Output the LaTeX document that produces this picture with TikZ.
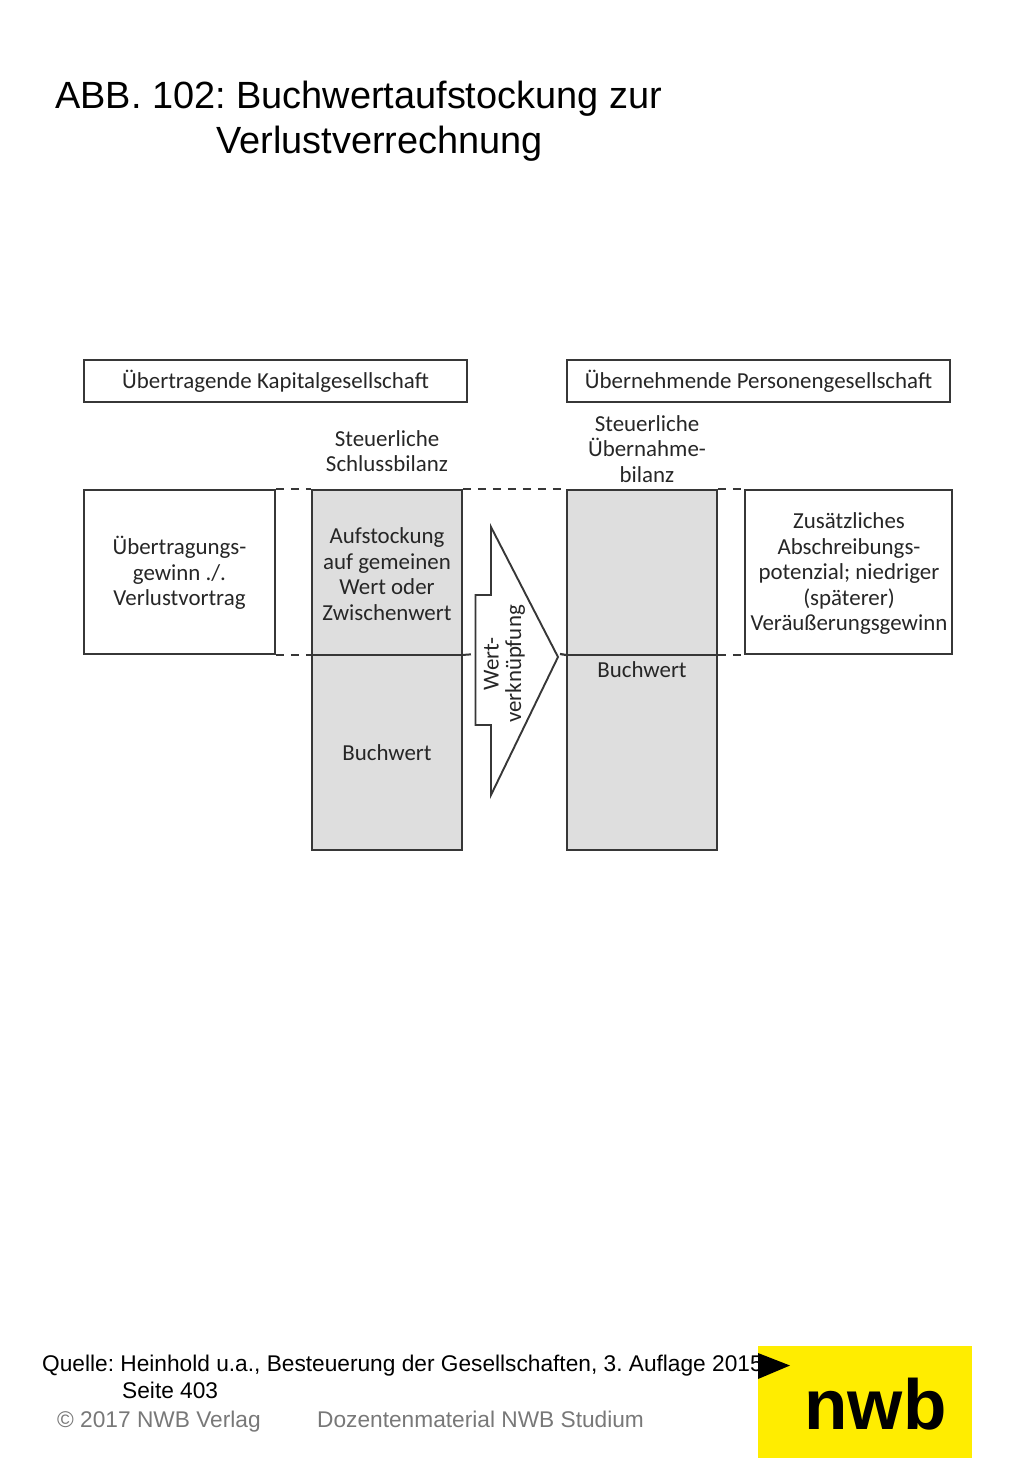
\documentclass[tikz,border=0pt]{standalone}
\usepackage{fontspec}
\setmainfont{Liberation Sans}
\newfontfamily\dfont{Carlito}
\frenchspacing
\usetikzlibrary{calc}
\definecolor{fillgrey}{RGB}{222,222,222}
\definecolor{linegrey}{RGB}{55,55,55}
\definecolor{textgrey}{RGB}{120,120,120}
\definecolor{nwbyellow}{RGB}{255,237,0}
\tikzset{
 boxw/.style={draw=linegrey,line width=1.9pt,fill=white,inner sep=0pt},
 boxg/.style={draw=linegrey,line width=1.9pt,fill=fillgrey,inner sep=0pt},
 dtext/.style={inner sep=0pt,font=\dfont\fontsize{22.9}{25.5}\selectfont,text=black!85,align=center},
 dashline/.style={draw=linegrey,line width=2pt,dash pattern=on 8pt off 7pt},
 solidline/.style={draw=linegrey,line width=2.2pt},
 title/.style={inner sep=0pt,anchor=base west,font=\fontsize{37.9}{45}\selectfont},
 src/.style={inner sep=0pt,anchor=base west,font=\fontsize{22.7}{27}\selectfont},
 foot/.style={inner sep=0pt,anchor=base west,font=\fontsize{22.7}{27}\selectfont,text=textgrey},
}
\begin{document}
\begin{tikzpicture}[x=1pt,y=-1pt]
\useasboundingbox (0,0) rectangle (1024,1479);
% titles
\node[title] (t1) at (55,109) {ABB. 102: Buchwertaufstockung zur};
\node[title] (t2) at (216,154) {Verlustverrechnung};
% header boxes
\node[boxw,minimum width=383pt,minimum height=42pt] (hl) at (275.5,381) {};
\node[dtext] at (hl.center) {Übertragende Kapitalgesellschaft};
\node[boxw,minimum width=383pt,minimum height=42pt] (hr) at (758.5,381) {};
\node[dtext] at (hr.center) {Übernehmende Personengesellschaft};
% column heads
\node[dtext] (sb) at (387,451) {Steuerliche\\Schlussbilanz};
\node[dtext] (ub) at (647,449) {Steuerliche\\Übernahme-\\bilanz};
% grey columns
\node[boxg,minimum width=150pt,minimum height=360pt] (gl) at (387,670) {};
\node[boxg,minimum width=150pt,minimum height=360pt] (gr) at (642,670) {};
% side boxes
\node[boxw,minimum width=191pt,minimum height=164pt] (sl) at (179.5,572) {};
\node[boxw,minimum width=207pt,minimum height=164pt] (sr) at (848.5,572) {};
% anchors at the value line
\coordinate (gla) at (gl.west |- sl.south);
\coordinate (glb) at (gl.east |- sl.south);
\coordinate (gra) at (gr.west |- sl.south);
\coordinate (grb) at (gr.east |- sl.south);
% value line
\draw[solidline] (gla) -- (glb);
\draw[solidline] (gra) -- (grb);
% arrow
\coordinate (a1) at (491,527);
\coordinate (a2) at (558,657);
\coordinate (a3) at (491,795);
\coordinate (a4) at (491,725);
\coordinate (a5) at (475.5,725);
\coordinate (a6) at (475.5,595);
\coordinate (a7) at (491,595);
\draw[linegrey,line width=1.9pt,fill=white,line join=miter] (a1) -- (a2) -- (a3) -- (a4) -- (a5) -- (a6) -- (a7) -- cycle;
\coordinate (ma) at (475.5,654);
\coordinate (mb) at (560,654);
% dashed guides
\draw[dashline] (sl.north east) -- (gl.north west);
\draw[dashline] (gl.north east) -- (gr.north west);
\draw[dashline] (gr.north east) -- (sr.north west);
\draw[dashline] (sl.south east) -- (gla);
\draw[dashline] (glb) -- (ma);
\draw[solidline] (mb) -- (gra);
\draw[dashline] (grb) -- (sr.south west);
% box text
\node[dtext] (x1) at (179.5,573) {Übertragungs-\\gewinn ./.\\Verlustvortrag};
\node[dtext] (x2) at (387,574) {Aufstockung\\auf gemeinen\\Wert oder\\Zwischenwert};
\node[dtext] (x3) at (387,753) {Buchwert};
\node[dtext] (x4) at (642,670) {Buchwert};
\node[dtext] (x5) at (849,574) {Zusätzliches\\Abschreibungs-\\potenzial; niedriger\\(späterer)\\Veräußerungsgewinn};
\node[dtext,rotate=90,font=\dfont\fontsize{22.9}{22.5}\selectfont] (x6) at (504.5,664) {Wert-\\verknüpfung};
% logo
\node[fill=nwbyellow,inner sep=0pt,minimum width=214pt,minimum height=112pt] (logo) at (865,1402) {};
\node[inner sep=0pt,anchor=base,font=\fontsize{71}{71}\selectfont\bfseries] (nwb) at (875.5,1429) {nwb};
% source
\node[src] (q1) at (42,1371) {Quelle: Heinhold u.a., Besteuerung der Gesellschaften, 3. Auflage 2015};
\node[src] (q2) at (122,1398) {Seite 403};
\coordinate (b1) at (758,1353);
\coordinate (b2) at (790,1365.5);
\coordinate (b3) at (758,1379);
\fill[black] (b1) -- (b2) -- (b3) -- cycle;
\node[foot] (f1) at (57,1427) {© 2017 NWB Verlag};
\node[foot] (f2) at (317,1427) {Dozentenmaterial NWB Studium};
\end{tikzpicture}
\end{document}
